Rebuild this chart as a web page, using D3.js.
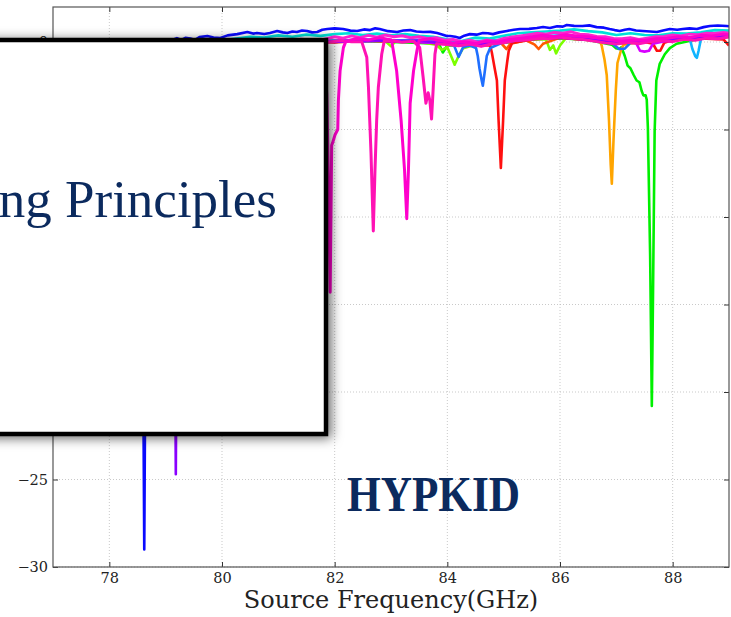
<!DOCTYPE html>
<html>
<head>
<meta charset="utf-8">
<script src="https://cdn.jsdelivr.net/npm/d3@7"></script>
<style>
  html, body { margin: 0; padding: 0; background: #fff; overflow: hidden; }
</style>
</head>
<body>
<div id="chart"></div>
<script>
// axis ticks
const xTicks = [78, 80, 82, 84, 86, 88];
const yTicks = [-30, -25, -20, -15, -10, -5, 0];
const yTicksShown = [-30, -25, 0]; // the rest sit under the slide box

// transmission traces [GHz, dB]
const traceGreen = [[77.0,-0.05],[77.5,0.02],[78.0,-0.05],[78.5,0.0],[79.0,0.05],[79.5,-0.02],[80.0,0.05],[80.5,0.0],[81.0,0.08],[81.5,0.0],[82.0,0.02],[82.5,0.05],[83.0,0.0],[83.5,-0.05],[83.85,-0.1],[83.92,-0.6],[84.0,-0.2],[84.5,-0.2],[85.0,-0.05],[85.5,0.15],[86.0,0.22],[86.5,0.12],[86.92,-0.15],[86.99,-0.35],[87.06,-0.4],[87.09,-0.3],[87.15,-0.8],[87.2,-1.35],[87.25,-1.5],[87.31,-1.9],[87.36,-2.2],[87.41,-2.3],[87.45,-2.8],[87.48,-3.05],[87.52,-3.05],[87.54,-3.3],[87.56,-4.9],[87.6,-12.2],[87.63,-20.8],[87.65,-14.8],[87.68,-5.1],[87.71,-2.2],[87.77,-1.25],[87.86,-0.7],[87.95,-0.35],[88.07,-0.1],[88.5,0.2],[89.0,0.3]];
const traceLime = [[77.0,0.0],[78.0,0.05],[79.0,0.02],[80.0,0.05],[81.0,0.08],[82.0,0.02],[82.5,0.1],[82.9,0.05],[83.0,-0.25],[83.08,0.05],[83.5,0.0],[83.8,-0.15],[83.9,-0.45],[84.0,-0.3],[84.08,-0.9],[84.13,-1.3],[84.2,-0.8],[84.28,-0.35],[84.5,-0.15],[85.0,0.0],[85.5,0.2],[85.75,0.15],[85.82,-0.45],[85.88,-0.2],[85.93,-0.65],[86.0,-0.2],[86.1,0.2],[86.5,0.15],[87.0,-0.05],[87.5,0.0],[88.0,0.12],[88.5,0.25],[89.0,0.35]];
const traceOrange = [[77.0,0.05],[77.5,0.0],[78.0,0.08],[78.5,0.02],[79.0,0.06],[79.5,0.02],[80.0,0.1],[80.5,0.05],[81.0,0.1],[81.5,0.05],[82.0,0.08],[82.5,0.1],[83.0,0.02],[83.5,0.05],[84.0,-0.08],[84.5,-0.1],[85.0,0.05],[85.5,0.22],[86.0,0.3],[86.5,0.18],[86.71,0.05],[86.74,-0.2],[86.79,-1.0],[86.83,-1.9],[86.87,-4.5],[86.9,-7.0],[86.92,-8.1],[86.95,-5.6],[86.99,-2.8],[87.02,-1.2],[87.08,-0.5],[87.13,-0.15],[87.5,0.05],[88.0,0.18],[88.5,0.28],[89.0,0.38]];
const traceOrangeRed = [[77.0,0.0],[78.0,0.05],[79.0,0.0],[80.0,0.08],[81.0,0.05],[82.0,0.0],[82.5,0.1],[83.0,0.05],[83.5,0.02],[84.0,-0.1],[84.5,-0.12],[84.95,-0.05],[85.05,-0.4],[85.12,-0.1],[85.4,0.1],[85.55,-0.15],[85.62,-0.4],[85.7,-0.1],[86.0,0.25],[86.5,0.12],[87.0,-0.05],[87.5,0.05],[88.0,0.15],[88.5,0.25],[89.0,0.3]];
const traceRed = [[77.0,0.0],[77.5,0.05],[78.0,-0.02],[78.5,0.02],[79.0,0.05],[79.5,0.0],[80.0,0.05],[80.5,0.08],[81.0,0.02],[81.5,0.05],[82.0,-0.02],[82.5,0.08],[83.0,0.05],[83.5,0.0],[84.0,-0.12],[84.5,-0.18],[84.76,-0.2],[84.79,-0.6],[84.84,-1.5],[84.88,-2.2],[84.91,-4.5],[84.95,-7.2],[84.99,-4.5],[85.02,-2.2],[85.06,-1.2],[85.09,-0.5],[85.15,-0.05],[85.5,0.15],[86.0,0.25],[86.5,0.12],[87.0,-0.08],[87.5,0.0],[87.65,-0.1],[87.72,-0.5],[87.78,-0.5],[87.85,-0.05],[88.0,0.12],[88.5,0.2],[88.9,0.15],[89.0,-0.2]];
const traceSky = [[77.0,0.05],[78.0,0.02],[79.0,0.08],[80.0,0.05],[81.0,0.1],[82.0,0.05],[82.5,0.15],[83.0,0.08],[83.5,0.12],[84.0,0.0],[84.5,0.05],[85.0,0.12],[85.5,0.3],[86.0,0.38],[86.5,0.3],[87.0,0.1],[87.5,0.15],[88.0,0.25],[88.3,0.25],[88.35,-0.4],[88.4,-0.8],[88.43,-0.9],[88.46,-0.5],[88.51,0.3],[89.0,0.42]];
const traceAzure = [[77.0,0.02],[78.0,0.08],[79.0,0.02],[80.0,0.1],[81.0,0.05],[82.0,0.08],[82.5,0.05],[83.0,0.1],[83.5,0.0],[84.0,-0.1],[84.12,-0.2],[84.2,-0.85],[84.28,-0.3],[84.4,-0.2],[84.51,-0.35],[84.54,-0.8],[84.57,-1.5],[84.61,-2.2],[84.63,-2.5],[84.66,-1.8],[84.7,-0.8],[84.76,-0.35],[85.0,0.0],[85.5,0.18],[86.0,0.28],[86.5,0.15],[86.9,0.0],[87.05,-0.4],[87.15,-0.38],[87.25,-0.05],[87.5,0.02],[88.0,0.18],[88.5,0.3],[89.0,0.35]];
const traceFuchsia = [[77.0,0.05],[78.0,0.0],[79.0,0.1],[80.0,0.02],[81.0,0.1],[82.0,0.02],[83.0,0.08],[84.0,-0.08],[85.0,0.05],[85.5,0.2],[86.0,0.28],[86.5,0.18],[87.0,0.0],[87.35,-0.05],[87.42,-0.5],[87.5,-0.55],[87.58,-0.5],[87.65,-0.1],[88.0,0.15],[88.5,0.22],[89.0,0.38]];
const traceViolet = [[77.0,0.05],[77.5,0.1],[78.0,0.0],[78.5,0.08],[79.0,0.05],[79.1,0.02],[79.15,-8],[79.17,-19],[79.18,-24.7],[79.19,-19],[79.21,-8],[79.25,0.0],[79.5,0.08],[80.0,0.02],[80.5,0.1],[81.0,0.05],[81.5,0.1],[82.0,0.0],[82.5,0.12],[83.0,0.05],[83.5,0.08],[84.0,-0.1],[84.5,-0.15],[85.0,0.0],[85.5,0.2],[86.0,0.25],[86.5,0.15],[87.0,-0.05],[87.5,0.0],[88.0,0.15],[88.5,0.22],[89.0,0.35]];
const traceCyan = [[77.0,0.0],[77.5,0.05],[78.0,0.02],[78.5,0.0],[79.0,0.04],[79.25,0.02],[79.5,0.06],[79.75,0.12],[80.0,0.08],[80.25,0.2],[80.5,0.3],[80.75,0.26],[81.0,0.38],[81.25,0.3],[81.5,0.42],[81.75,0.35],[82.0,0.45],[82.25,0.5],[82.5,0.4],[82.75,0.48],[83.0,0.38],[83.25,0.45],[83.5,0.35],[83.75,0.3],[84.0,0.15],[84.25,0.05],[84.5,0.25],[84.75,0.2],[85.0,0.35],[85.25,0.5],[85.5,0.55],[85.75,0.6],[86.0,0.65],[86.25,0.72],[86.5,0.62],[86.75,0.55],[87.0,0.4],[87.25,0.5],[87.5,0.4],[87.75,0.38],[88.0,0.5],[88.25,0.48],[88.5,0.55],[88.75,0.68],[89.0,0.65]];
const traceBlue = [[77.0,0.0],[77.3,0.05],[77.6,-0.02],[77.9,0.04],[78.2,0.0],[78.45,0.05],[78.56,0.0],[78.6,-18],[78.62,-29.0],[78.64,-18],[78.68,0.0],[78.9,0.06],[79.1,0.1],[79.2,0.22],[79.28,0.12],[79.35,0.24],[79.44,0.2],[79.52,0.12],[79.6,0.28],[79.74,0.34],[79.85,0.26],[79.97,0.23],[80.1,0.38],[80.27,0.45],[80.45,0.57],[80.55,0.48],[80.62,0.51],[80.75,0.46],[80.85,0.51],[80.98,0.63],[81.08,0.55],[81.16,0.51],[81.25,0.6],[81.33,0.57],[81.42,0.66],[81.51,0.63],[81.6,0.55],[81.69,0.57],[81.78,0.7],[81.87,0.74],[82.0,0.78],[82.15,0.74],[82.28,0.65],[82.4,0.63],[82.52,0.72],[82.63,0.68],[82.72,0.78],[82.8,0.74],[82.95,0.62],[83.11,0.57],[83.22,0.66],[83.34,0.68],[83.45,0.6],[83.57,0.57],[83.7,0.58],[83.82,0.51],[83.92,0.42],[83.99,0.34],[84.05,0.34],[84.14,0.3],[84.22,0.23],[84.3,0.36],[84.4,0.45],[84.52,0.42],[84.63,0.51],[84.72,0.5],[84.81,0.45],[84.92,0.55],[85.06,0.63],[85.18,0.7],[85.29,0.74],[85.45,0.75],[85.59,0.8],[85.7,0.86],[85.82,0.8],[85.95,0.9],[86.05,0.88],[86.12,0.97],[86.25,0.92],[86.4,0.91],[86.52,0.95],[86.65,0.85],[86.78,0.82],[86.88,0.74],[86.97,0.68],[87.06,0.63],[87.15,0.7],[87.23,0.74],[87.35,0.66],[87.47,0.63],[87.6,0.6],[87.72,0.57],[87.83,0.66],[87.95,0.74],[88.08,0.7],[88.18,0.74],[88.3,0.78],[88.43,0.74],[88.55,0.85],[88.66,0.91],[88.8,0.94],[88.96,0.91],[89.0,0.9]];
const tracePinkC = [[77.0,-0.1],[77.5,-0.05],[78.0,-0.1],[78.5,-0.04],[79.0,-0.08],[79.5,0.0],[80.0,0.02],[80.5,0.05],[81.0,0.08],[81.25,0.02],[81.5,0.12],[81.75,0.1],[82.0,0.3],[82.15,0.22],[82.3,0.35],[82.45,0.25],[82.6,0.38],[82.75,0.28],[82.9,0.4],[83.05,0.3],[83.2,0.36],[83.35,0.24],[83.5,0.3],[83.65,0.2],[83.8,0.25],[83.95,0.1],[84.1,0.15],[84.25,0.02],[84.4,0.1],[84.55,-0.02],[84.7,0.12],[84.85,0.05],[85.0,0.2],[85.15,0.28],[85.3,0.35],[85.45,0.42],[85.6,0.5],[85.75,0.45],[85.9,0.55],[86.05,0.5],[86.2,0.58],[86.35,0.45],[86.5,0.42],[86.65,0.32],[86.8,0.3],[86.95,0.2],[87.1,0.18],[87.25,0.25],[87.4,0.15],[87.55,0.22],[87.7,0.3],[87.85,0.32],[88.0,0.4],[88.15,0.35],[88.3,0.45],[88.45,0.42],[88.6,0.5],[88.75,0.48],[88.9,0.55],[89.0,0.5]];
const tracePinkB = [[77.1,0.02],[77.3,-0.05],[77.5,0.05],[77.7,-0.02],[77.9,0.04],[78.1,-0.06],[78.3,0.02],[78.5,0.08],[78.7,-0.02],[78.9,0.05],[79.1,0.0],[79.3,0.08],[79.5,-0.02],[79.7,0.06],[79.9,0.02],[80.1,0.1],[80.3,0.0],[80.5,0.08],[80.7,0.04],[80.9,0.1],[81.1,0.02],[81.3,0.08],[81.5,0.0],[81.7,0.06],[81.9,-0.02],[82.1,0.08],[82.3,0.02],[82.48,0.02],[82.57,-0.87],[82.6,-2.6],[82.645,-6.35],[82.686,-10.8],[82.716,-7.3],[82.746,-4.45],[82.775,-2.6],[82.835,-0.7],[82.88,0.05],[83.0,0.1],[83.2,-0.02],[83.4,0.05],[83.51,-0.32],[83.57,-2.0],[83.62,-3.5],[83.66,-2.9],[83.69,-3.35],[83.72,-4.4],[83.75,-2.6],[83.78,-0.7],[83.81,-0.1],[84.0,-0.15],[84.2,-0.22],[84.4,-0.12],[84.6,-0.25],[84.8,-0.1],[85.0,-0.05],[85.2,0.08],[85.4,0.12],[85.6,0.22],[85.8,0.18],[86.0,0.28],[86.2,0.2],[86.4,0.15],[86.6,0.05],[86.8,-0.05],[87.0,-0.12],[87.2,-0.02],[87.4,-0.1],[87.6,0.02],[87.8,0.08],[88.0,0.02],[88.2,0.15],[88.4,0.1],[88.6,0.22],[88.8,0.18],[89.0,0.28]];
const tracePinkA = [[77.0,0.05],[77.2,-0.02],[77.4,0.04],[77.6,0.08],[77.8,0.0],[78.0,0.06],[78.2,0.02],[78.4,0.08],[78.6,0.0],[78.8,0.06],[79.0,0.08],[79.2,0.02],[79.4,0.06],[79.6,0.0],[79.8,0.08],[80.0,0.04],[80.2,0.1],[80.4,0.05],[80.6,0.1],[80.8,0.06],[81.0,0.1],[81.2,0.06],[81.4,0.16],[81.6,0.12],[81.75,0.05],[81.82,-0.6],[81.86,-3],[81.89,-8],[81.92,-14.3],[81.947,-5.9],[81.965,-5.75],[82.007,-5.3],[82.055,-5.0],[82.066,-3.35],[82.096,-1.65],[82.155,-0.32],[82.2,0.05],[82.4,0.2],[82.6,0.12],[82.8,0.25],[83.01,0.12],[83.1,-1.65],[83.18,-4.5],[83.24,-7.3],[83.28,-10.1],[83.31,-7.3],[83.34,-3.5],[83.4,-1.65],[83.46,-0.5],[83.5,0.1],[83.7,0.18],[83.9,0.05],[84.1,-0.05],[84.3,0.02],[84.5,-0.08],[84.7,0.05],[84.9,0.0],[85.1,0.15],[85.3,0.22],[85.5,0.3],[85.7,0.38],[85.9,0.32],[86.1,0.42],[86.3,0.35],[86.5,0.3],[86.7,0.22],[86.9,0.12],[87.1,0.05],[87.3,0.12],[87.5,0.08],[87.7,0.18],[87.9,0.22],[88.1,0.3],[88.3,0.25],[88.5,0.38],[88.7,0.35],[88.9,0.45],[89.0,0.42]];

// drawing order, bottom to top
const traceList = [traceGreen, traceLime, traceOrange, traceOrangeRed, traceRed, traceSky, traceAzure, traceFuchsia, traceViolet, traceCyan, traceBlue, tracePinkC, tracePinkB, tracePinkA];
const traceColors = ['#00f000', '#7cff00', '#ffa500', '#ff5a00', '#ff1010', '#10b4ff', '#1f6fff', '#d800ff', '#8a00ff', '#00e0d8', '#0a0aff', '#ff22d0', '#ff12b4', '#ff00cc'];

const width = 731;
const height = 617;
const margin = { top: 7, right: 2, bottom: 50, left: 53 };
const navy = '#0b2a5e';

const svg = d3.select('#chart')
  .append('svg')
  .attr('width', width)
  .attr('height', height)
  .style('font-family', '"DejaVu Serif", serif');

const x = d3.scaleLinear()
  .domain([77, 89])
  .range([margin.left, width - margin.right]);

const y = d3.scaleLinear()
  .domain([-30, 2])
  .range([height - margin.bottom, margin.top]);

const defs = svg.append('defs');
defs.append('clipPath').attr('id', 'plot-clip')
  .append('rect')
  .attr('x', margin.left).attr('y', margin.top)
  .attr('width', width - margin.right - margin.left)
  .attr('height', height - margin.bottom - margin.top);

const shadow = defs.append('filter').attr('id', 'box-shadow')
  .attr('x', '-20%').attr('y', '-20%').attr('width', '140%').attr('height', '140%');
shadow.append('feDropShadow')
  .attr('dx', 3).attr('dy', 2)
  .attr('stdDeviation', 6)
  .attr('flood-color', '#000')
  .attr('flood-opacity', 0.6);

// grid
svg.append('g')
  .selectAll('line')
  .data(xTicks)
  .enter()
  .append('line')
  .attr('x1', d => x(d)).attr('x2', d => x(d))
  .attr('y1', margin.top).attr('y2', height - margin.bottom)
  .attr('stroke', '#bbb').attr('stroke-width', 0.8).attr('stroke-dasharray', '1,2');

svg.append('g')
  .selectAll('line')
  .data(yTicks)
  .enter()
  .append('line')
  .attr('x1', margin.left).attr('x2', width - margin.right)
  .attr('y1', d => y(d)).attr('y2', d => y(d))
  .attr('stroke', '#bbb').attr('stroke-width', 0.8).attr('stroke-dasharray', '1,2');

// traces
const line = d3.line()
  .x(d => x(d[0]))
  .y(d => y(d[1]));

svg.append('g')
  .attr('clip-path', 'url(#plot-clip)')
  .selectAll('path')
  .data(traceList)
  .enter()
  .append('path')
  .attr('d', d => line(d))
  .attr('fill', 'none')
  .attr('stroke', (d, i) => traceColors[i])
  .attr('stroke-width', (d, i) => i >= traceList.length - 3 ? 3 : 2.6)
  .attr('stroke-linejoin', 'round');

// axes, ticks pointing inward on all four sides
const fmt = d => String(d).replace('-', '\u2212');

svg.append('g')
  .attr('transform', `translate(0,${height - margin.bottom})`)
  .call(d3.axisBottom(x).tickValues(xTicks).tickFormat(fmt).tickSizeInner(-5).tickSizeOuter(0).tickPadding(6));
svg.append('g')
  .attr('transform', `translate(0,${margin.top})`)
  .call(d3.axisTop(x).tickValues(xTicks).tickFormat('').tickSizeInner(-5).tickSizeOuter(0));
svg.append('g')
  .attr('transform', `translate(${margin.left},0)`)
  .call(d3.axisLeft(y).tickValues(yTicks)
    .tickFormat(d => yTicksShown.includes(d) ? fmt(d) : '')
    .tickSizeInner(-5).tickSizeOuter(0).tickPadding(5));
svg.append('g')
  .attr('transform', `translate(${width - margin.right},0)`)
  .call(d3.axisRight(y).tickValues(yTicks).tickFormat('').tickSizeInner(-5).tickSizeOuter(0));

svg.selectAll('.domain').remove();
svg.selectAll('.tick line').attr('stroke', '#333').attr('stroke-width', 1);
svg.selectAll('.tick text')
  .attr('fill', '#222')
  .style('font-family', '"DejaVu Serif", serif')
  .style('font-size', '14.5px');

// spines
svg.append('rect')
  .attr('x', margin.left).attr('y', margin.top)
  .attr('width', width - margin.right - margin.left)
  .attr('height', height - margin.bottom - margin.top)
  .attr('fill', 'none')
  .attr('stroke', '#555')
  .attr('stroke-width', 1.2);

// x label
svg.append('text')
  .attr('x', 391)
  .attr('y', 608)
  .attr('text-anchor', 'middle')
  .attr('fill', '#222')
  .style('font-size', '24px')
  .text('Source Frequency(GHz)');

// overlapping slide box
svg.append('rect')
  .attr('x', -20).attr('y', 40)
  .attr('width', 346).attr('height', 394)
  .attr('fill', '#fff')
  .attr('stroke', '#000')
  .attr('stroke-width', 4.5)
  .attr('filter', 'url(#box-shadow)');

svg.append('text')
  .attr('x', 277)
  .attr('y', 217)
  .attr('text-anchor', 'end')
  .attr('fill', navy)
  .style('font-family', '"Liberation Serif", serif')
  .style('font-size', '53px')
  .text('ng Principles');

svg.append('text')
  .attr('x', 347)
  .attr('y', 511)
  .attr('fill', navy)
  .attr('textLength', 173)
  .attr('lengthAdjust', 'spacingAndGlyphs')
  .style('font-family', '"Liberation Serif", serif')
  .style('font-weight', 'bold')
  .style('font-size', '50px')
  .text('HYPKID');
</script>
</body>
</html>
